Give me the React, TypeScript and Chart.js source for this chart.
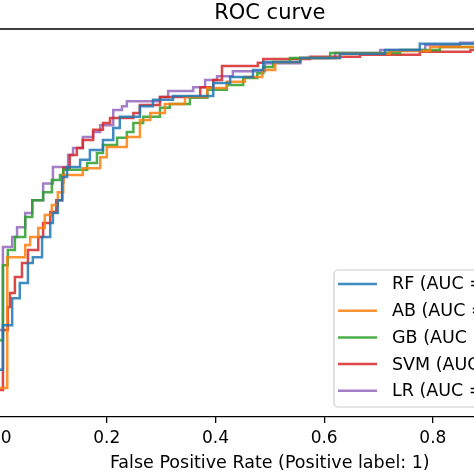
import React, { useEffect, useRef } from "react";
import { Chart, registerables } from "chart.js";

Chart.register(...registerables);

// ---------- data (FPR / TPR corner points of each step curve) ----------
const rfFpr = [0, 0, 0.009, 0.026, 0.04, 0.055, 0.064, 0.081, 0.096, 0.101, 0.11, 0.118, 0.127, 0.151, 0.169, 0.193, 0.212, 0.224, 0.261, 0.285, 0.322, 0.396, 0.427, 0.469, 0.488, 0.556, 0.629, 0.712, 0.776, 1.0];
const rfTpr = [0, 0.114, 0.231, 0.302, 0.342, 0.395, 0.41, 0.463, 0.5, 0.526, 0.56, 0.621, 0.647, 0.666, 0.692, 0.718, 0.75, 0.779, 0.807, 0.824, 0.834, 0.868, 0.884, 0.902, 0.923, 0.934, 0.945, 0.955, 0.971, 1.0];

const abFpr = [0, 0, 0.017, 0.05, 0.059, 0.074, 0.086, 0.099, 0.11, 0.12, 0.156, 0.188, 0.2, 0.237, 0.261, 0.28, 0.307, 0.344, 0.385, 0.421, 0.454, 0.486, 0.51, 0.556, 0.629, 0.721, 0.795, 1.0];
const abTpr = [0, 0.066, 0.41, 0.442, 0.463, 0.487, 0.521, 0.547, 0.581, 0.626, 0.644, 0.673, 0.7, 0.726, 0.771, 0.789, 0.813, 0.831, 0.855, 0.871, 0.884, 0.902, 0.923, 0.934, 0.945, 0.952, 0.963, 1.0];

const gbFpr = [0, 0, 0.009, 0.018, 0.031, 0.05, 0.063, 0.083, 0.099, 0.114, 0.12, 0.164, 0.182, 0.193, 0.219, 0.237, 0.249, 0.267, 0.298, 0.316, 0.353, 0.385, 0.421, 0.451, 0.477, 0.488, 0.506, 0.537, 0.611, 0.74, 0.813, 1.0];
const gbTpr = [0, 0.192, 0.389, 0.429, 0.463, 0.516, 0.56, 0.581, 0.613, 0.626, 0.64, 0.658, 0.684, 0.705, 0.724, 0.739, 0.763, 0.779, 0.803, 0.813, 0.829, 0.85, 0.863, 0.881, 0.894, 0.91, 0.923, 0.934, 0.947, 0.955, 0.963, 1.0];

const svmFpr = [0, 0, 0.009, 0.018, 0.022, 0.031, 0.044, 0.055, 0.074, 0.083, 0.096, 0.107, 0.118, 0.12, 0.132, 0.145, 0.156, 0.175, 0.193, 0.206, 0.249, 0.261, 0.298, 0.372, 0.396, 0.412, 0.478, 0.488, 0.574, 0.666, 0.776, 0.869, 1.0];
const svmTpr = [0, 0.061, 0.219, 0.279, 0.316, 0.358, 0.395, 0.429, 0.463, 0.5, 0.529, 0.56, 0.605, 0.645, 0.679, 0.697, 0.718, 0.745, 0.763, 0.776, 0.789, 0.81, 0.831, 0.857, 0.876, 0.913, 0.921, 0.931, 0.937, 0.942, 0.95, 0.955, 1.0];

const lrFpr = [0, 0, 0.009, 0.026, 0.035, 0.05, 0.063, 0.083, 0.101, 0.129, 0.138, 0.156, 0.175, 0.188, 0.212, 0.228, 0.237, 0.298, 0.313, 0.359, 0.381, 0.403, 0.432, 0.491, 0.556, 0.62, 0.703, 0.786, 0.85, 1.0];
const lrTpr = [0, 0.219, 0.437, 0.463, 0.489, 0.526, 0.56, 0.604, 0.647, 0.679, 0.697, 0.726, 0.739, 0.757, 0.797, 0.807, 0.82, 0.831, 0.847, 0.857, 0.876, 0.886, 0.899, 0.92, 0.934, 0.947, 0.955, 0.968, 0.974, 1.0];

const seriesLabels = ["RF (AUC = 0.87)", "AB (AUC = 0.86)", "GB (AUC = 0.87)", "SVM (AUC = 0.87)", "LR (AUC = 0.88)"];
const seriesColors = ["rgba(31,119,180,0.85)", "rgba(255,127,14,0.85)", "rgba(44,160,44,0.85)", "rgba(214,39,40,0.85)", "rgba(148,103,189,0.85)"];
const xTicks = [0, 0.2, 0.4, 0.6, 0.8, 1.0];
const titleText = "ROC curve";
const xLabelText = "False Positive Rate (Positive label: 1)";

const FONT = '"DejaVu Sans", "Liberation Sans", sans-serif';
const CANVAS_W = 720;
const CANVAS_H = 474;
const SHIFT = 60;

export default function App() {
  const ref = useRef<HTMLCanvasElement | null>(null);

  useEffect(() => {
    const canvas = ref.current;
    if (!canvas) return;
    const pairs = [
      [rfFpr, rfTpr],
      [abFpr, abTpr],
      [gbFpr, gbTpr],
      [svmFpr, svmTpr],
      [lrFpr, lrTpr],
    ];
    const datasets = pairs.map((p, i) => ({
      label: seriesLabels[i],
      data: p[0].map((x: number, k: number) => ({ x, y: p[1][k] })),
      borderColor: seriesColors[i],
      backgroundColor: seriesColors[i],
      borderWidth: 2.5,
      pointRadius: 0,
      stepped: "before" as const,
      fill: false,
      tension: 0,
    }));

    const decor = {
      id: "decor",
      afterDraw(chart: any) {
        const ctx = chart.ctx;
        const a = chart.chartArea;
        ctx.save();
        ctx.strokeStyle = "#000";
        ctx.lineWidth = 1.3;
        ctx.beginPath();
        ctx.moveTo(a.left, a.top);
        ctx.lineTo(a.right, a.top);
        ctx.moveTo(a.right, a.top);
        ctx.lineTo(a.right, a.bottom);
        ctx.moveTo(a.left, a.top);
        ctx.lineTo(a.left, a.bottom);
        ctx.stroke();

        const cx = (a.left + a.right) / 2;
        ctx.fillStyle = "#000";
        ctx.textAlign = "center";
        ctx.textBaseline = "alphabetic";
        ctx.font = `21px ${FONT}`;
        ctx.fillText(titleText, cx, 18.5);
        ctx.font = `17.5px ${FONT}`;
        ctx.fillText(xLabelText, cx, 467.5);

        // legend
        const lx = 334 + SHIFT;
        const ly = 270;
        const lw = 230;
        const lh = 137;
        const r = 4;
        ctx.beginPath();
        ctx.moveTo(lx + r, ly);
        ctx.lineTo(lx + lw - r, ly);
        ctx.arcTo(lx + lw, ly, lx + lw, ly + r, r);
        ctx.lineTo(lx + lw, ly + lh - r);
        ctx.arcTo(lx + lw, ly + lh, lx + lw - r, ly + lh, r);
        ctx.lineTo(lx + r, ly + lh);
        ctx.arcTo(lx, ly + lh, lx, ly + lh - r, r);
        ctx.lineTo(lx, ly + r);
        ctx.arcTo(lx, ly, lx + r, ly, r);
        ctx.closePath();
        ctx.fillStyle = "rgba(255,255,255,0.8)";
        ctx.fill();
        ctx.strokeStyle = "#cccccc";
        ctx.lineWidth = 1.2;
        ctx.stroke();

        ctx.textAlign = "left";
        ctx.font = `17.5px ${FONT}`;
        chart.data.datasets.forEach((ds: any, i: number) => {
          const cy = 283 + i * 26.7;
          ctx.strokeStyle = ds.borderColor;
          ctx.lineWidth = 2.5;
          ctx.beginPath();
          ctx.moveTo(338 + SHIFT, cy + 1);
          ctx.lineTo(377 + SHIFT, cy + 1);
          ctx.stroke();
          ctx.fillStyle = "#000";
          ctx.fillText(ds.label, 392 + SHIFT, cy + 6.4);
        });
        ctx.restore();
      },
    };

    const chart = new Chart(canvas, {
      type: "line",
      data: { datasets },
      options: {
        animation: false,
        responsive: false,
        maintainAspectRatio: false,
        layout: { padding: { left: 52.6, right: CANVAS_W - 607, top: 29, bottom: 0 } },
        plugins: {
          legend: { display: false },
          title: { display: false },
          tooltip: { enabled: false },
        },
        scales: {
          x: {
            type: "linear",
            min: -0.01,
            max: 1.01,
            afterBuildTicks: (s: any) => {
              s.ticks = xTicks.map((v) => ({ value: v }));
            },
            afterFit: (s: any) => {
              s.height = 57;
            },
            ticks: {
              callback: (v: any) => Number(v).toFixed(1),
              color: "#000",
              font: { family: FONT, size: 17 },
              padding: 5,
              maxRotation: 0,
              autoSkip: false,
            },
            grid: {
              drawOnChartArea: false,
              drawTicks: true,
              tickLength: 6,
              color: "#000",
              lineWidth: 1.3,
            },
            border: { display: true, color: "#000", width: 1.3 },
          },
          y: {
            type: "linear",
            min: -0.01,
            max: 1.01,
            display: false,
          },
        },
      },
      plugins: [decor],
    } as any);
    return () => chart.destroy();
  }, []);

  return (
    <div
      style={{
        position: "fixed",
        left: 0,
        top: 0,
        width: 474,
        height: 474,
        overflow: "hidden",
        background: "#fff",
      }}
    >
      <canvas
        ref={ref}
        width={CANVAS_W}
        height={CANVAS_H}
        style={{ position: "absolute", left: -SHIFT, top: 0, width: CANVAS_W, height: CANVAS_H }}
      />
    </div>
  );
}
